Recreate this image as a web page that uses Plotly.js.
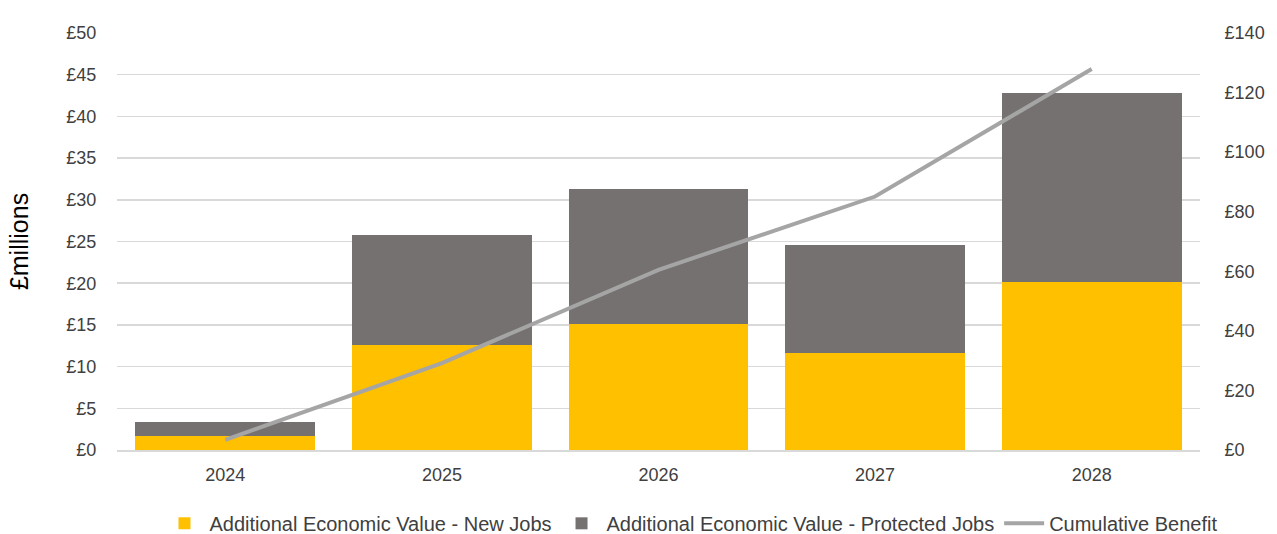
<!DOCTYPE html>
<html>
<head>
<meta charset="utf-8">
<script src="https://cdn.plot.ly/plotly-3.0.1.min.js"></script>
<style>html,body{margin:0;padding:0;background:#fff;}#chart{width:1277px;height:534px;}</style>
</head>
<body>
<div id="chart"></div>
<script>
const years = ['2024', '2025', '2026', '2027', '2028'];
const newJobs = [1.7, 12.6, 15.1, 11.6, 20.1];
const protectedJobs = [1.7, 13.2, 16.2, 13.0, 22.7];
const cumulativeBenefit = [3.4, 29.2, 60.5, 85.1, 127.9];
const leftTicks = [0, 5, 10, 15, 20, 25, 30, 35, 40, 45, 50];
const rightTicks = [0, 20, 40, 60, 80, 100, 120, 140];
const leftTickText = leftTicks.map(v => '£' + v);
const rightTickText = rightTicks.map(v => '£' + v);

const fam = '"Liberation Sans", Arial, sans-serif';
const txt = '#404040';

const traces = [
  {type: 'bar', x: years, y: newJobs, name: 'Additional Economic Value - New Jobs',
   marker: {color: '#FFC000'}, yaxis: 'y'},
  {type: 'bar', x: years, y: protectedJobs, name: 'Additional Economic Value - Protected Jobs',
   marker: {color: '#767171'}, yaxis: 'y'},
  {type: 'scatter', mode: 'lines', x: years, y: cumulativeBenefit, name: 'Cumulative Benefit',
   line: {color: '#A5A5A5', width: 4}, yaxis: 'y2'}
];

const layout = {
  width: 1277, height: 534,
  margin: {l: 117, r: 77, t: 33, b: 84, autoexpand: false},
  paper_bgcolor: '#fff', plot_bgcolor: '#fff',
  barmode: 'stack', bargap: 0.17,
  font: {family: fam, size: 18, color: txt},
  showlegend: true,
  legend: {orientation: 'h', x: 0.53, xanchor: 'center', yref: 'container', y: 0.02, yanchor: 'middle',
           font: {family: fam, size: 20, color: txt}, traceorder: 'normal', itemwidth: 40},
  xaxis: {type: 'category', showgrid: false, showline: true, linecolor: '#D9D9D9', linewidth: 1.5,
          ticks: 'outside', ticklen: 8, tickcolor: 'rgba(0,0,0,0)',
          tickfont: {family: fam, size: 18, color: txt}},
  yaxis: {range: [0, 50], tickmode: 'array', tickvals: leftTicks, ticktext: leftTickText,
          showgrid: true, gridcolor: '#D9D9D9', gridwidth: 1.5,
          zeroline: false, ticks: 'outside', ticklen: 16, tickcolor: 'rgba(0,0,0,0)',
          tickfont: {family: fam, size: 18, color: txt},
          title: {text: '£millions', font: {family: fam, size: 25, color: '#000'}, standoff: 30}},
  yaxis2: {range: [0, 140], tickmode: 'array', tickvals: rightTicks, ticktext: rightTickText,
           overlaying: 'y', side: 'right',
           showgrid: false, zeroline: false, ticks: 'outside', ticklen: 20, tickcolor: 'rgba(0,0,0,0)',
           tickfont: {family: fam, size: 18, color: txt}}
};

Plotly.newPlot('chart', traces, layout, {displayModeBar: false, staticPlot: true});
</script>
</body>
</html>
